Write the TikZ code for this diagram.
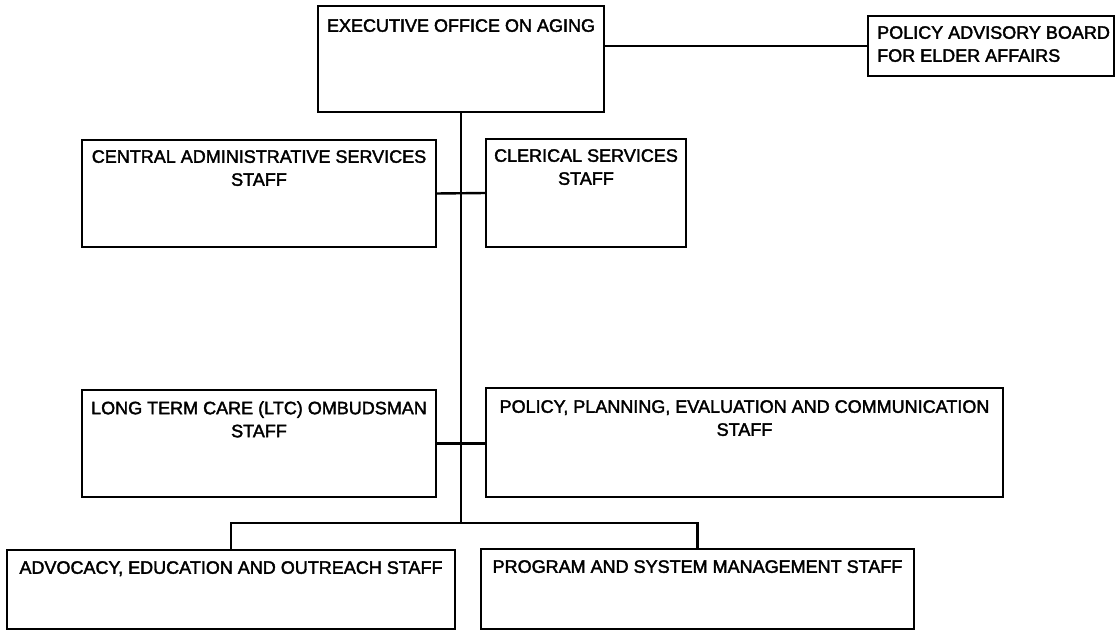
\documentclass[tikz,border=0pt]{standalone}
\usepackage{fontspec}
\setmainfont{Liberation Sans}[FakeBold=2]

\begin{document}
\begin{tikzpicture}[x=1pt, y=-1pt, line width=2.4pt,
    unit/.style={draw, rectangle, inner sep=0pt, outer sep=0pt},
    caption/.style={anchor=north, align=center, inner sep=0pt, font=\fontsize{18}{23}\selectfont}]

  \useasboundingbox (0,0) rectangle (1116,631);

  \node[unit, minimum width=286pt, minimum height=106pt] (exec) at (461,59) {};
  \node[unit, minimum width=246pt, minimum height=60pt] (board) at (991,46) {};
  \node[unit, minimum width=354pt, minimum height=107pt] (central) at (259,193.5) {};
  \node[unit, minimum width=200pt, minimum height=108pt] (clerical) at (586,193) {};
  \node[unit, minimum width=354pt, minimum height=107pt] (ltc) at (259,443.5) {};
  \node[unit, minimum width=517pt, minimum height=109pt] (policy) at (744.5,442.5) {};
  \node[unit, minimum width=448pt, minimum height=79pt] (advocacy) at (231,589.5) {};
  \node[unit, minimum width=433pt, minimum height=80pt] (program) at (697.5,589) {};

  \node[caption] (exec-t) at ([yshift=-12pt]exec.north) {EXECUTIVE OFFICE ON AGING};
  \node[caption, anchor=north west, align=left] (board-t) at ([xshift=8pt, yshift=-9pt]board.north west) {POLICY ADVISORY BOARD\\FOR ELDER AFFAIRS};
  \node[caption] (central-t) at ([yshift=-9pt]central.north) {CENTRAL ADMINISTRATIVE SERVICES\\STAFF};
  \node[caption] (clerical-t) at ([yshift=-9pt]clerical.north) {CLERICAL SERVICES\\STAFF};
  \node[caption] (ltc-t) at ([yshift=-10pt]ltc.north) {LONG TERM CARE (LTC) OMBUDSMAN\\STAFF};
  \node[caption] (policy-t) at ([yshift=-11pt]policy.north) {POLICY, PLANNING, EVALUATION AND COMMUNICATION\\STAFF};
  \node[caption] (advocacy-t) at ([yshift=-10pt]advocacy.north) {ADVOCACY, EDUCATION AND OUTREACH STAFF};
  \node[caption] (program-t) at ([yshift=-10pt]program.north) {PROGRAM AND SYSTEM MANAGEMENT STAFF};

  \coordinate (bar) at (461,523);

  \draw (exec.east |- board.west) -- (board.west);
  \draw (exec.south) -- (bar);
  \draw (central.east) -- (clerical.west);
  \draw (ltc.east) -- (ltc.east -| policy.west);
  \draw (advocacy.north) |- (bar) -| (program.north);
\end{tikzpicture}
\end{document}
